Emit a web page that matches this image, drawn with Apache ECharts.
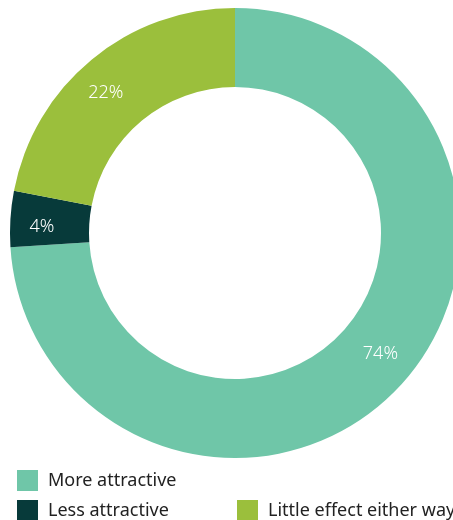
<!DOCTYPE html>
<html><head><meta charset="utf-8">
<script src="https://cdn.jsdelivr.net/npm/echarts@6/dist/echarts.min.js"></script>
<style>html,body{margin:0;padding:0;background:#fff}#c{width:453px;height:520px}</style>
</head><body><div id="c"></div>
<script>
const categories = ['More attractive', 'Less attractive', 'Little effect either way'];
const values = [74, 4, 22];
const colors = ['#6fc6a8', '#073a3a', '#9bbf3c'];
const FONT = 'Noto Sans';
const labelOffsets = [[8, -8], [-5, 6], [-9, 5]];
const chart = echarts.init(document.getElementById('c'));
const legendBase = {
  orient: 'horizontal', itemWidth: 21, itemHeight: 21, itemGap: 10,
  icon: 'rect', selectedMode: false, width: 300,
  textStyle: { fontFamily: FONT, fontSize: 18, color: '#222', padding: [0, 0, 0, 5] },
  padding: 0
};
chart.setOption({
  animation: false,
  color: colors,
  legend: [
    Object.assign({}, legendBase, { left: 17, top: 470, data: [categories[0]] }),
    Object.assign({}, legendBase, { left: 17, top: 500, data: [categories[1]] }),
    Object.assign({}, legendBase, { left: 237, top: 500, data: [categories[2]] })
  ],
  series: [{
    type: 'pie',
    center: [235, 233],
    radius: [146, 225],
    startAngle: 90,
    clockwise: true,
    avoidLabelOverlap: false,
    itemStyle: { borderWidth: 0 },
    label: {
      show: true, position: 'inside', formatter: '{c}%',
      color: '#fff', fontFamily: FONT, fontSize: 18, fontWeight: 300
    },
    labelLine: { show: false },
    emphasis: { disabled: true },
    data: categories.map((n, i) => ({ name: n, value: values[i], label: { offset: labelOffsets[i] } }))
  }]
});
</script></body></html>
